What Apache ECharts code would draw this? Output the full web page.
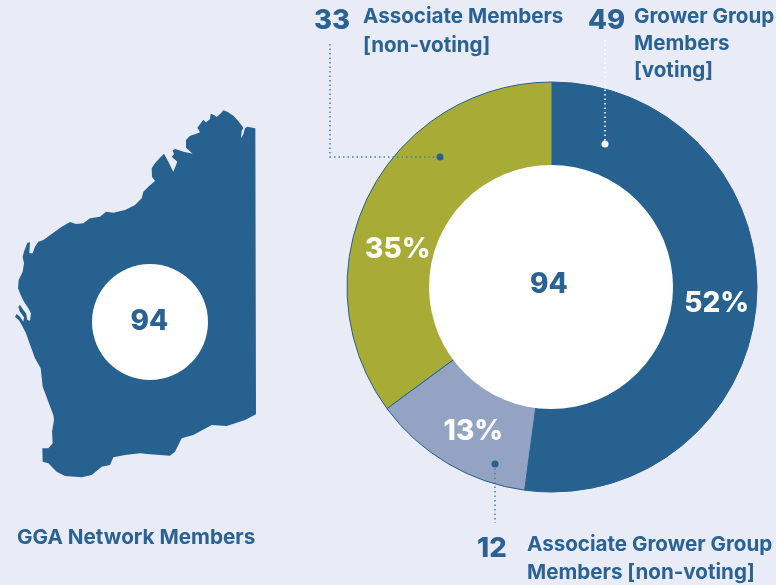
<!DOCTYPE html>
<html><head><meta charset="utf-8">
<style>html,body{margin:0;padding:0;background:#e9ebf7}#c{width:776px;height:585px}</style>
<script src="https://cdn.jsdelivr.net/npm/echarts@6/dist/echarts.min.js"></script></head>
<body><div id="c"></div>
<script>
const categories = ['Grower Group Members [voting]', 'Associate Grower Group Members [non-voting]', 'Associate Members [non-voting]'];
const values = [49, 12, 33];
const total = 94;
const chartTitle = 'GGA Network Members';

const DARK = '#26618f', OLIVE = '#a8ab36', LIGHT = '#94a3c3', TEXT = '#2a6393';
const FONT = 'Inter';

const crop = (pts, ox, oy) => pts.map(p => [ox + p[0]/3, oy + p[1]/3]);
const northCoast = crop([[346,70],[322,65],[315,70],[310,88],[303,100],[305,78],[310,68],[295,48],[280,32],[262,20],[250,16],[243,25],[230,36],[222,30],[212,26],[210,42],[198,52],[190,44],[180,58],[172,68],[180,82],[165,88],[150,92],[138,105],[138,128],[158,146],[130,140],[115,135],[105,132],[98,136],[102,148],[95,155],[112,170],[100,200],[85,170],[72,146],[60,158],[45,175],[35,190],[36,215],[45,228],[25,245],[10,260]],140,105);
const northWest = [[141.7,198.3],[135,205],[125,210],[113.3,212.7],[106,211.7],[100,216.7],[90,218.3],[83.3,223.3],[76,224],[70,222],[61.7,226.7]];
const westCoast = crop([[125,72],[100,90],[85,95],[75,110],[68,130],[58,130],[60,97],[52,98],[42,125],[38,140],[42,160],[38,185],[26,210],[24,235],[32,255],[42,275],[55,295],[63,310],[60,332],[52,330],[48,310],[40,300],[30,285],[25,290],[30,305],[42,322],[40,335],[30,320],[20,312],[15,320],[28,332],[38,350],[48,370],[55,390]],10,210);
const southWest = [[35,358.3],[40.7,368.3],[42.7,386.7],[53.3,415]];
const capeCoast = crop([[72,0],[66,35],[68,70],[55,85],[37,85],[38,125],[55,130],[80,155],[105,168],[155,172],[185,165],[215,140],[240,135],[250,112],[285,105],[330,100],[360,103]],30,420);
const southCoast = [[170,455.7],[175,451.7],[181.7,438.3],[193.3,435],[211.7,425],[226.7,426],[245,420],[256,414.3]];
const outline = [].concat(northCoast, northWest, westCoast, southWest, capeCoast, southCoast);

const label = (text, x, y, size, weight, align) => ({type:'text', silent:true, z:5, style:{text, x, y, fill:TEXT, font:`${weight||700} ${size}px ${FONT}`, textVerticalAlign:'middle', textAlign:align||'left'}});
const dotted = (points, color) => ({type:'polyline', silent:true, shape:{points}, style:{fill:null, stroke:color, lineWidth:1.5, lineDash:[1.5,3]}, z:10});
const dot = (cx, cy, r, color) => ({type:'circle', silent:true, shape:{cx, cy, r}, style:{fill:color}, z:10});

const chart = echarts.init(document.getElementById('c'), null, {renderer:'canvas'});
chart.setOption({
  animation:false,
  backgroundColor:'#e9ebf7',
  series:[{
    type:'pie',
    center:[552,287],
    radius:[121,205],
    startAngle:90,
    clockwise:true,
    percentPrecision:0,
    silent:true,
    label:{show:true, position:'inside', formatter:'{d}%', color:'#fff', fontFamily:FONT, fontWeight:800, fontSize:28},
    labelLine:{show:false},
    itemStyle:{borderColor:DARK, borderWidth:1},
    data:[
      {name:categories[0], value:values[0], itemStyle:{color:DARK}, label:{offset:[-1,5]}},
      {name:categories[1], value:values[1], itemStyle:{color:LIGHT}, label:{offset:[6,2]}},
      {name:categories[2], value:values[2], itemStyle:{color:OLIVE}, label:{offset:[-6,37]}}
    ]
  }],
  graphic:{elements:[
    {type:'polygon', silent:true, shape:{points:outline}, style:{fill:DARK}},
    {type:'circle', silent:true, shape:{cx:150,cy:322,r:58}, style:{fill:'#fff'}},
    {type:'circle', silent:true, z:3, shape:{cx:551,cy:287,r:122}, style:{fill:'#fff'}},
    label(String(total),149.5,322,28,800,'center'),
    label(String(total),549,285,28,800,'center'),
    label(chartTitle,17,537.5,20.7),
    label(String(values[2]),314,21,27.5,800),
    label('Associate Members',363,17,20.6),
    label('[non-voting]',363,46,20.6),
    label(String(values[0]),588,21,27.5,800),
    label('Grower Group',634,17,20.6),
    label('Members',634,44,20.6),
    label('[voting]',634,71,20.6),
    label(String(values[1]),477,549,27.5,800),
    label('Associate Grower Group',527,545,20.6),
    label('Members [non-voting]',527,572.5,20.6),
    dotted([[330,44],[330,157],[440,157]],'#4a7da8'),
    dot(440,157,3.5,DARK),
    dotted([[605,40],[605,144]],'#ffffff'),
    dot(605,144,3.5,'#ffffff'),
    dotted([[495,464],[495,523]],'#4a7da8'),
    dot(495,464,3.5,DARK)
  ]}
});
</script></body></html>
